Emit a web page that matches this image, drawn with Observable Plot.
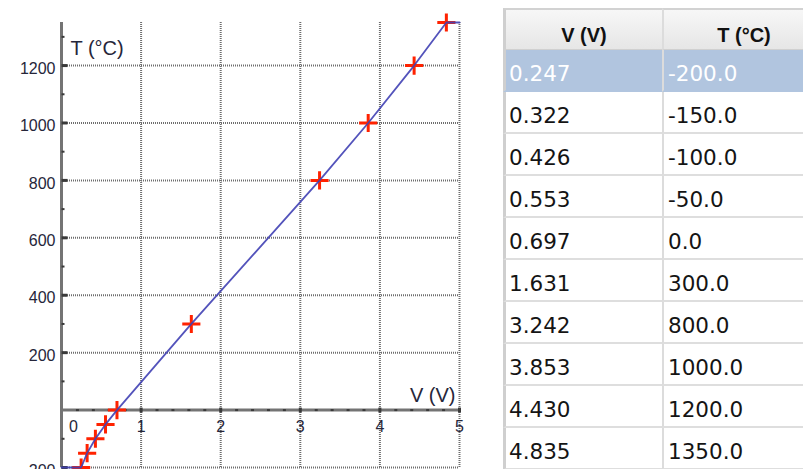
<!DOCTYPE html>
<html>
<head>
<meta charset="utf-8">
<script src="https://cdn.jsdelivr.net/npm/d3@7"></script>
<script src="https://cdn.jsdelivr.net/npm/@observablehq/plot@0.6"></script>
<style>
  html, body { margin: 0; padding: 0; background: #fff; }
  body { width: 803px; height: 469px; overflow: hidden; position: relative; font-family: "Liberation Sans", Arial, sans-serif; }
  #chart { position: absolute; left: 0; top: 0; }
  #chart svg { overflow: hidden; }
  #tbl { position: absolute; left: 503px; top: 8px; width: 320px; }
  .hdr { position: absolute; top: 0; height: 42px; box-sizing: border-box;
         background: linear-gradient(#f7f7f7, #e6e6e6); border-top: 2px solid #d2d2d2; border-bottom: 1px solid #d0d0d0;
         font-family: "Liberation Sans", Arial, sans-serif; font-weight: bold; font-size: 20px; color: #111;
         text-align: center; line-height: 42px; }
  .hdr span { position: relative; top: 4px; }
  .cell { position: absolute; height: 42px; box-sizing: border-box; border-bottom: 2px solid #dedede;
          font-family: "DejaVu Sans", sans-serif; font-size: 21.5px; color: #141414; line-height: 42px; }
  .cell span { position: relative; top: 3px; }
  .c1 { left: 0; width: 159px; padding-left: 3px; border-left: 3px solid #cfcfcf; }
  .c2 { left: 159px; width: 162px; padding-left: 4px; border-left: 2px solid #dcdcdc; }
  .sel { background: #b1c5df; color: #fff; border-bottom-color: #b1c5df; }
</style>
</head>
<body>
<div id="chart"></div>
<div id="tbl"></div>
<script>
// ---- data ----
const V = [0.247, 0.322, 0.426, 0.553, 0.697, 1.631, 3.242, 3.853, 4.430, 4.835];
const T = [-200.0, -150.0, -100.0, -50.0, 0.0, 300.0, 800.0, 1000.0, 1200.0, 1350.0];
const xDomain = [0, 5];
const yDomain = [-200, 1350];
const xTickLabels = [0, 1, 2, 3, 4, 5];
const yTickLabels = [-200, 200, 400, 600, 800, 1000, 1200];
const xGrid = [1, 2, 3, 4, 5];
const yGrid = [-200, 200, 400, 600, 800, 1000, 1200];
const xMinor = d3.range(1, 25).map(i => i / 5).filter(d => Math.abs(d - Math.round(d)) > 1e-9);
const yMinor = [-100, 100, 300, 500, 700, 900, 1100, 1300];
const headers = ["V (V)", "T (°C)"];
const selectedRow = 0;

const points = V.map((v, i) => ({v, t: T[i]}));
// calibration curve held flat beyond the table's end points
const curve = [{v: xDomain[0], t: T[0]}, ...points, {v: xDomain[1], t: T[T.length - 1]}];

const hDash = len => ({draw(ctx) { ctx.moveTo(0, 0); ctx.lineTo(len, 0); }});
const vDash = (a, b) => ({draw(ctx) { ctx.moveTo(0, a); ctx.lineTo(0, b); }});

const labelColor = "#26263a";

const chart = Plot.plot({
  width: 468,
  height: 469,
  marginLeft: 61,
  marginRight: 9,
  marginTop: 22,
  marginBottom: 2,
  x: {domain: xDomain, axis: null},
  y: {domain: yDomain, axis: null},
  style: {background: "transparent", fontFamily: "'Liberation Sans', Arial, sans-serif", overflow: "hidden"},
  marks: [
    Plot.ruleY(yGrid, {y: d => d, stroke: "#6e6e6e", strokeWidth: 2, strokeDasharray: "1,1"}),
    Plot.ruleX(xGrid, {x: d => d, stroke: "#6e6e6e", strokeWidth: 2, strokeDasharray: "1,1"}),
    Plot.ruleX([xDomain[0]], {x: d => d, stroke: "#747474", strokeWidth: 3}),
    Plot.ruleY([0], {y: d => d, stroke: "#747474", strokeWidth: 3}),
    // y ticks
    Plot.dot(yGrid, {frameAnchor: "left", y: d => d, symbol: hDash(6), r: 3, fill: "none", stroke: "#3a3a3a", strokeWidth: 3}),
    Plot.dot(yMinor, {frameAnchor: "left", y: d => d, symbol: hDash(3), r: 3, fill: "none", stroke: "#3a3a3a", strokeWidth: 2}),
    // x ticks
    Plot.dot(xGrid, {x: d => d, y: () => 0, symbol: vDash(-2.5, 2.5), r: 3, fill: "none", stroke: "#3a3a3a", strokeWidth: 3}),
    Plot.dot(xMinor, {x: d => d, y: () => 0, symbol: hDash(3), dx: -1.5, r: 3, fill: "none", stroke: "#3a3a3a", strokeWidth: 2}),
    // tick labels
    Plot.text(yTickLabels, {frameAnchor: "left", y: d => d, text: d => String(d), textAnchor: "end", dx: -6, dy: 3, fontSize: 16, fill: labelColor}),
    Plot.text(xTickLabels.filter(d => d !== 0), {x: d => d, y: () => 0, text: d => String(d), dy: 17, fontSize: 16, fill: labelColor}),
    Plot.text(xTickLabels.filter(d => d === 0), {x: d => d, y: () => 0, text: d => String(d), dx: 12, dy: 17, fontSize: 16, fill: labelColor}),
    // axis titles
    Plot.text(["T (°C)"], {frameAnchor: "top-left", text: d => d, textAnchor: "start", dx: 9, dy: 18, fontSize: 20, fill: labelColor}),
    Plot.text(["V (V)"], {x: () => xDomain[1], y: () => 0, text: d => d, textAnchor: "end", dx: -4, dy: -14, fontSize: 20, fill: labelColor}),
    // data
    Plot.dot(points, {x: "v", y: "t", symbol: "plus", r: 5.9, stroke: "#ff2200", strokeWidth: 3}),
    Plot.line(curve, {x: "v", y: "t", stroke: "#4040b4", strokeWidth: 1.8, strokeOpacity: 0.9})
  ]
});
document.getElementById("chart").appendChild(chart);

// ---- table ----
const tbl = document.getElementById("tbl");
const colLeft = [0, 159], colW = [159, 162];
headers.forEach((h, j) => {
  const d = document.createElement("div");
  d.className = "hdr";
  d.style.left = colLeft[j] + "px";
  d.style.width = colW[j] + "px";
  if (j === 0) d.style.borderLeft = "3px solid #cfcfcf";
  else d.style.borderLeft = "2px solid #dcdcdc";
  const s = document.createElement("span");
  s.textContent = h;
  d.appendChild(s);
  tbl.appendChild(d);
});
V.forEach((v, i) => {
  const vals = [v.toFixed(3), T[i].toFixed(1)];
  vals.forEach((txt, j) => {
    const d = document.createElement("div");
    d.className = "cell " + (j === 0 ? "c1" : "c2") + (i === selectedRow ? " sel" : "");
    d.style.top = (42 + 42 * i) + "px";
    const s = document.createElement("span");
    s.textContent = txt;
    d.appendChild(s);
    tbl.appendChild(d);
  });
});
</script>
</body>
</html>
